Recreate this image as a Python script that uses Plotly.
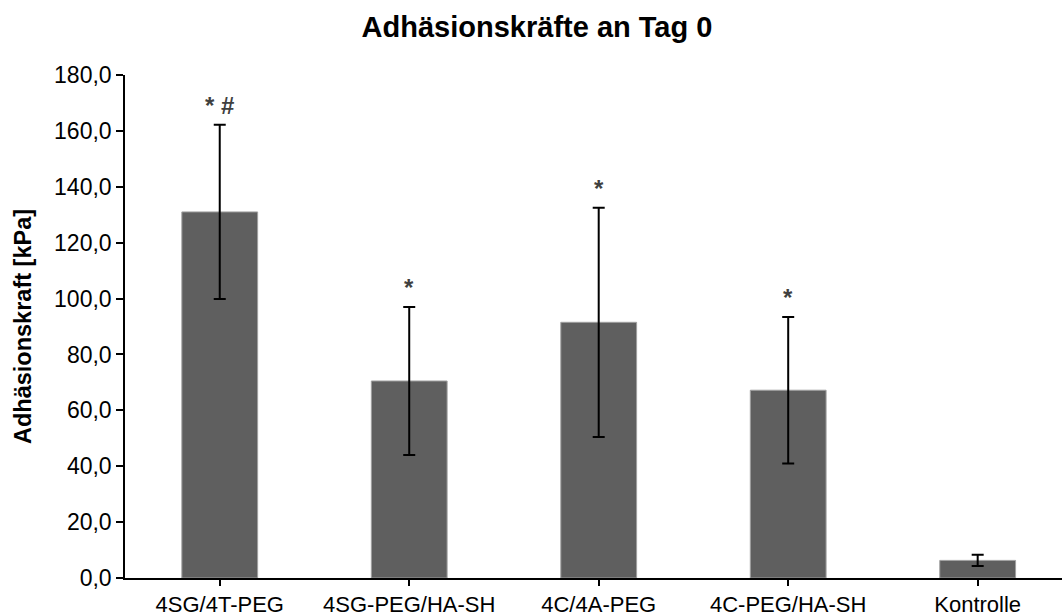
import plotly.graph_objects as go

categories = ["4SG/4T-PEG", "4SG-PEG/HA-SH", "4C/4A-PEG", "4C-PEG/HA-SH", "Kontrolle"]
means = [131.0, 70.5, 91.5, 67.2, 6.3]
errors = [31.2, 26.5, 41.0, 26.2, 2.0]
marks = ["* #", "*", "*", "*", ""]
y_ticks = [0, 20, 40, 60, 80, 100, 120, 140, 160, 180]

FONT = "Liberation Sans, Arial, sans-serif"

fig = go.Figure()
fig.add_trace(go.Bar(
    x=list(range(len(categories))),
    y=means,
    marker=dict(color="#5f5f5f", line=dict(color="#a0a0a0", width=1)),
    width=0.4,
    error_y=dict(type="data", array=errors, visible=True, color="black",
                 thickness=2, width=6),
    showlegend=False,
))

for i, (m, e, t) in enumerate(zip(means, errors, marks)):
    if t:
        fig.add_annotation(x=i, y=m + e, text="<b>" + t + "</b>", showarrow=False,
                           yanchor="bottom", yshift=4,
                           font=dict(family=FONT, size=24, color="#404040"))

fig.update_layout(
    width=1062, height=616,
    paper_bgcolor="white", plot_bgcolor="white",
    margin=dict(l=125, r=0, t=75, b=38),
    separators=",.",
    font=dict(family=FONT, color="black"),
    title=dict(text="<b>Adhäsionskräfte an Tag 0</b>", x=537 / 1062, xanchor="center",
               xref="container", y=1 - 27 / 616, yanchor="middle", yref="container",
               font=dict(family=FONT, size=29, color="black")),
)
fig.update_xaxes(
    range=[-0.5, 4.445],
    tickmode="array", tickvals=list(range(len(categories))), ticktext=categories,
    showline=True, linecolor="black", linewidth=1.5,
    ticks="outside", tickson="boundaries", ticklen=6, tickcolor="black", tickwidth=1.5,
    showgrid=False, zeroline=False, automargin=False,
    tickfont=dict(family=FONT, size=22, color="black"),
)
fig.update_yaxes(
    range=[0, 180], tickmode="array", tickvals=y_ticks, tickformat=".1f",
    showline=True, linecolor="black", linewidth=1.5,
    ticks="outside", ticklen=7, tickcolor="black", tickwidth=1.5,
    showgrid=False, zeroline=False, automargin=False,
    tickfont=dict(family=FONT, size=23, color="black"),
    title=dict(text="<b>Adhäsionskraft [kPa]</b>", standoff=16,
               font=dict(family=FONT, size=23.5, color="black")),
)

fig.write_html("out.html", config={"displayModeBar": False},
               post_script="document.body.style.margin='0px';document.body.style.padding='0px';")
